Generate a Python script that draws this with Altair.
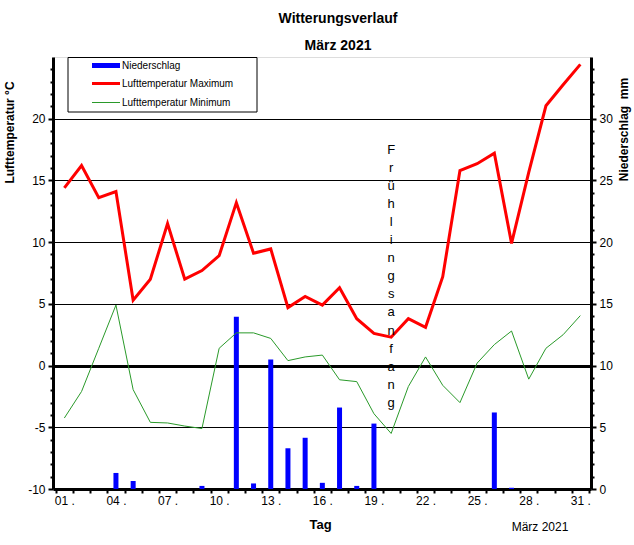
import altair as alt
import pandas as pd

# ---------------- data ----------------
days = list(range(1, 32))
tmax = [14.4, 16.2, 13.6, 14.1, 5.3, 7.0, 11.5, 7.0, 7.7, 8.9, 13.2, 9.1, 9.45, 4.7, 5.6,
        4.9, 6.3, 3.8, 2.6, 2.3, 3.8, 3.1, 7.2, 15.8, 16.35, 17.2, 9.9, 15.65, 21.05, 22.75, 24.4]
tmin = [-4.25, -2.1, 1.4, 4.9, -1.95, -4.6, -4.65, -4.9, -5.1, 1.4, 2.65, 2.65, 2.2, 0.4, 0.7,
        0.85, -1.15, -1.3, -3.9, -5.5, -1.7, 0.7, -1.6, -3.0, 0.2, 1.7, 2.8, -1.1, 1.4, 2.5, 4.05]
precip = [0, 0, 0, 1.3, 0.65, 0, 0, 0, 0.25, 0, 13.95, 0.45, 10.5, 3.3, 4.15,
          0.5, 6.6, 0.25, 5.3, 0, 0, 0, 0, 0, 0, 6.2, 0.1, 0, 0, 0, 0]

series_names = ["Niederschlag", "Lufttemperatur Maximum", "Lufttemperatur Minimum"]
series_colors = ["#0000ff", "#ff0000", "#2a9a2a"]
spring_day = [20]
spring_label = "Frühlingsanfang"
month_label = "März 2021"
title_lines = ["Witterungsverlauf", "März 2021"]

x_tick_values = [i / 2 for i in range(1, 64)]      # 0.5 ... 31.5
temp_tick_values = list(range(-10, 25))
precip_tick_values = list(range(0, 35))

df = pd.DataFrame({"Tag": days, "Tmax": tmax, "Tmin": tmin, "Niederschlag": precip})
df_spring = pd.DataFrame({"Tag": spring_day, "Wert": [17.5]})
one = pd.DataFrame({"n": [0]})

FONT = "Liberation Sans"
W, H = 538, 432

x_scale = alt.Scale(domain=[0.34, 31.62], nice=False, zero=False, padding=0)
t_scale = alt.Scale(domain=[-10, 25], nice=False, zero=False)
p_scale = alt.Scale(domain=[0, 35], nice=False, zero=False)

x_axis = alt.Axis(
    values=x_tick_values,
    labelExpr="datum.value % 1 === 0 && (datum.value - 1) % 3 === 0 ? (datum.value < 10 ? '0' : '') + datum.value + ' .' : ''",
    tickSize={"condition": {"test": "datum.value % 1 !== 0", "value": 4}, "value": 0},
    tickWidth=2, tickColor="black",
    domainColor="black", domainWidth=3,
    labelFont=FONT, labelFontSize=12, labelColor="black", labelPadding=6,
    labelOverlap=False, labelFlush=False, labelBound=False,
    grid=False,
    title="Tag", titleFont=FONT, titleFontSize=13, titleFontWeight="bold",
    titleColor="black", titleX=267, titleY=35, titleAlign="center", titleBaseline="middle",
)

left_axis = alt.Axis(
    orient="left",
    values=temp_tick_values,
    labelExpr="datum.value % 5 === 0 ? '' + datum.value : ''",
    tickSize={"condition": {"test": "datum.value % 5 === 0", "value": 5}, "value": 3},
    tickWidth=2, tickColor="black",
    domainColor="black", domainWidth=3,
    labelFont=FONT, labelFontSize=12, labelColor="black", labelPadding=3,
    labelOverlap=False, labelFlush=False,
    grid=True, gridColor="black",
    gridWidth={"condition": {"test": "datum.value === 0", "value": 3}, "value": 1},
    gridOpacity={"condition": {"test": "datum.value % 5 === 0 && datum.value > -10", "value": 1}, "value": 0},
    title="Lufttemperatur °C", titleFont=FONT, titleFontSize=12, titleFontWeight="bold",
    titleColor="black", titleAngle=270, titleX=-44, titleY=75,
    titleAlign="center", titleBaseline="middle",
)

right_axis = alt.Axis(
    orient="right",
    values=precip_tick_values,
    labelExpr="datum.value % 5 === 0 ? '' + datum.value : ''",
    tickSize={"condition": {"test": "datum.value % 5 === 0", "value": 5}, "value": 3},
    tickWidth=2, tickColor="black",
    domainColor="black", domainWidth=3,
    labelFont=FONT, labelFontSize=12, labelColor="black", labelPadding=3,
    labelOverlap=False, labelFlush=False,
    grid=False,
    title="Niederschlag\u00a0\u00a0mm", titleFont=FONT, titleFontSize=12, titleFontWeight="bold",
    titleColor="black", titleAngle=270, titleX=32, titleY=72,
    titleAlign="center", titleBaseline="middle",
)

# ---------------- precipitation bars (right axis) ----------------
bars = alt.Chart(df).mark_bar(size=5, color=series_colors[0]).encode(
    x=alt.X("Tag:Q", scale=x_scale, axis=x_axis),
    y=alt.Y("Niederschlag:Q", scale=p_scale, axis=right_axis),
)

# ---------------- temperature lines (left axis) ----------------
lines = alt.Chart(df).transform_fold(
    ["Tmax", "Tmin"], as_=["Serie", "Wert"]
).mark_line(strokeJoin="miter").encode(
    x=alt.X("Tag:Q", scale=x_scale, axis=x_axis),
    y=alt.Y("Wert:Q", scale=t_scale, axis=left_axis),
    color=alt.Color("Serie:N", scale=alt.Scale(domain=["Tmax", "Tmin"],
                                               range=[series_colors[1], series_colors[2]]), legend=None),
    strokeWidth=alt.StrokeWidth("Serie:N", scale=alt.Scale(domain=["Tmax", "Tmin"], range=[3, 1]),
                                legend=None),
    order=alt.Order("Tag:Q"),
)

spring = alt.Chart(df_spring).mark_text(
    font=FONT, fontSize=13, lineHeight=18.1, baseline="middle", align="center", color="black"
).encode(
    x=alt.X("Tag:Q", scale=x_scale, axis=x_axis),
    y=alt.Y("Wert:Q", scale=t_scale, axis=left_axis),
    text=alt.value(list(spring_label)),
)

month_text = alt.Chart(one).mark_text(
    font=FONT, fontSize=12, align="center", baseline="middle", color="black"
).encode(x=alt.value(487), y=alt.value(470), text=alt.value(month_label))

# ---------------- manual legend ----------------
leg_box = alt.Chart(one).mark_rect(fill="white", stroke="black", strokeWidth=1).encode(
    x=alt.value(15), x2=alt.value(204), y=alt.value(0.5), y2=alt.value(55))
leg_layers = [leg_box]
leg_y = [8.5, 26.5, 45.5]
leg_w = [5, 3, 1]
for name, col, yy, sw in zip(series_names, series_colors, leg_y, leg_w):
    leg_layers.append(alt.Chart(one).mark_rule(color=col, strokeWidth=sw).encode(
        x=alt.value(39), x2=alt.value(67), y=alt.value(yy)))
    leg_layers.append(alt.Chart(one).mark_text(
        font=FONT, fontSize=10, align="left", baseline="middle", color="black").encode(
        x=alt.value(69), y=alt.value(yy), text=alt.value(name)))

temp_layer = alt.layer(lines, spring, month_text, *leg_layers)

chart = alt.layer(bars, temp_layer).resolve_scale(y="independent").properties(
    width=W, height=H,
    autosize=alt.AutoSizeParams(type="none"),
    padding={"left": 53, "top": 57, "right": 43, "bottom": 56},
    title=alt.Title(title_lines, font=FONT, fontSize=14, fontWeight="bold", color="black",
                    lineHeight=27, anchor="middle", dx=16, offset=4),
).configure_view(stroke=None).configure(background="white")

chart.save("out.html", embed_options={"renderer": "svg", "actions": False})
